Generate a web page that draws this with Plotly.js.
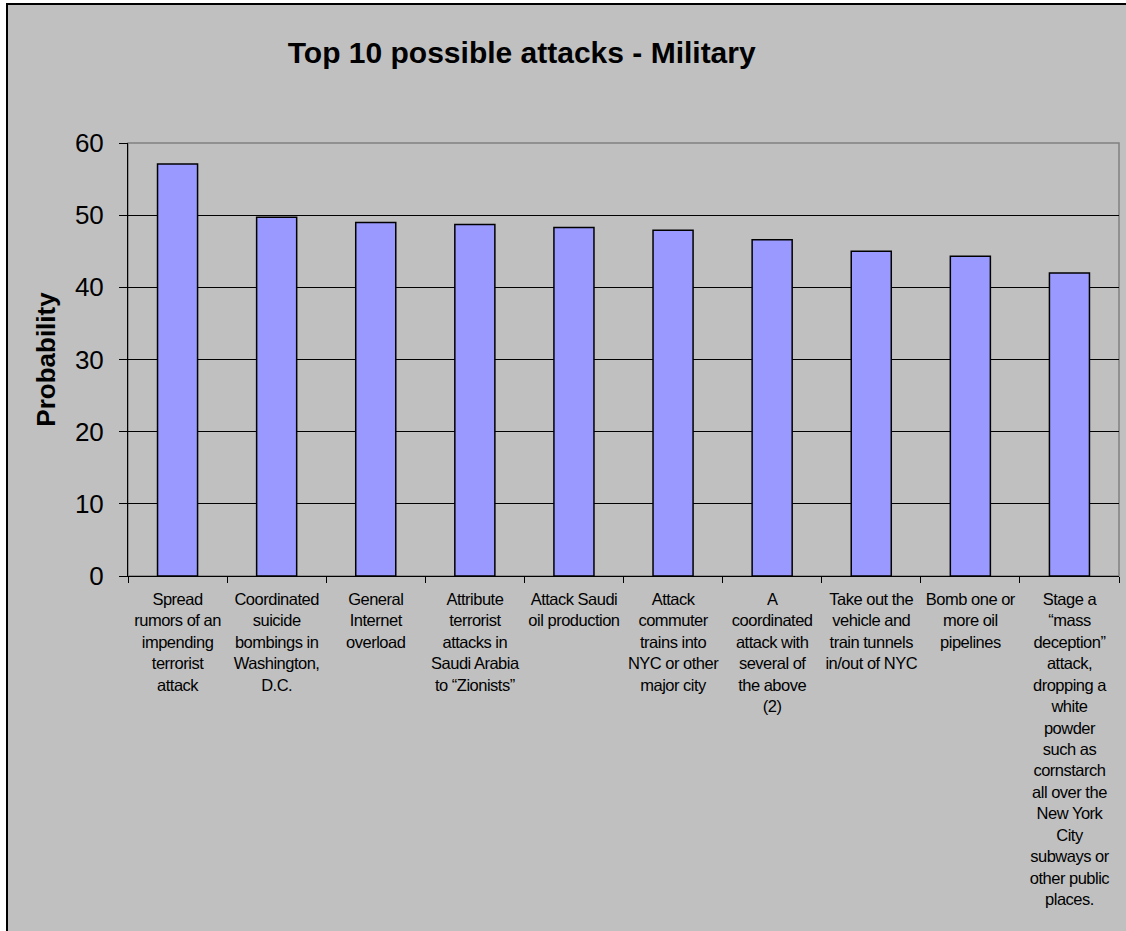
<!DOCTYPE html>
<html>
<head>
<meta charset="utf-8">
<script src="https://cdn.plot.ly/plotly-3.0.1.min.js"></script>
<style>
  html, body { margin: 0; padding: 0; background: #ffffff; overflow: hidden; }
  #chart { position: absolute; left: 6px; top: 3px; width: 1118px; height: 926px;
           border-left: 2px solid #000; border-top: 2px solid #000; }
  #chart .xtick text { letter-spacing: -0.5px; }
</style>
</head>
<body>
<div id="chart"></div>
<script>
const categories = [
  "Spread<br>rumors of an<br>impending<br>terrorist<br>attack",
  "Coordinated<br>suicide<br>bombings in<br>Washington,<br>D.C.",
  "General<br>Internet<br>overload",
  "Attribute<br>terrorist<br>attacks in<br>Saudi Arabia<br>to “Zionists”",
  "Attack Saudi<br>oil production",
  "Attack<br>commuter<br>trains into<br>NYC or other<br>major city",
  "A<br>coordinated<br>attack with<br>several of<br>the above<br>(2)",
  "Take out the<br>vehicle and<br>train tunnels<br>in/out of NYC",
  "Bomb one or<br>more oil<br>pipelines",
  "Stage a<br>“mass<br>deception”<br>attack,<br>dropping a<br>white<br>powder<br>such as<br>cornstarch<br>all over the<br>New York<br>City<br>subways or<br>other public<br>places."
];
const probability = [57.1, 49.7, 49.0, 48.7, 48.3, 47.9, 46.6, 45.0, 44.3, 42.0];
const yTicks = [0, 10, 20, 30, 40, 50, 60];

const trace = {
  type: 'bar',
  x: categories,
  y: probability,
  marker: { color: '#9999ff', line: { color: '#000000', width: 1.5 } },
  hoverinfo: 'skip'
};

const layout = {
  width: 1118,
  height: 926,
  paper_bgcolor: '#c0c0c0',
  plot_bgcolor: '#c0c0c0',
  margin: { l: 120, r: 7, t: 138, b: 355 },
  bargap: 0.596,
  showlegend: false,
  font: { family: 'Arial, "Liberation Sans", sans-serif', color: '#000' },
  title: {
    text: '<b>Top 10 possible attacks - Military</b>',
    font: { size: 30, color: '#000' },
    x: 0.4595, xanchor: 'center', xref: 'container',
    y: 0.949, yanchor: 'middle', yref: 'container'
  },
  xaxis: {
    type: 'category',
    tickson: 'boundaries',
    ticks: 'outside',
    ticklen: 6,
    tickcolor: '#000',
    tickfont: { size: 16.5, color: '#000' },
    tickangle: 0,
    ticklabelstandoff: 8,
    showline: true,
    linecolor: '#000',
    linewidth: 1,
    showgrid: false,
    zeroline: false,
    fixedrange: true
  },
  yaxis: {
    range: [0, 60],
    tickvals: yTicks,
    ticks: 'outside',
    ticklen: 8,
    tickcolor: '#000',
    tickfont: { size: 26, color: '#000' },
    ticklabelstandoff: 10,
    showline: true,
    linecolor: '#000',
    linewidth: 1,
    showgrid: true,
    gridcolor: '#000',
    gridwidth: 1,
    zeroline: false,
    fixedrange: true,
    title: { text: '<b>Probability</b>', font: { size: 26, color: '#000' }, standoff: 11 }
  },
  shapes: [{
    type: 'rect', xref: 'paper', yref: 'paper', x0: 0, x1: 1, y0: 0, y1: 1,
    line: { color: '#808080', width: 1.5 }, layer: 'below'
  }]
};

Plotly.newPlot('chart', [trace], layout, { displayModeBar: false, staticPlot: true });
</script>
</body>
</html>
